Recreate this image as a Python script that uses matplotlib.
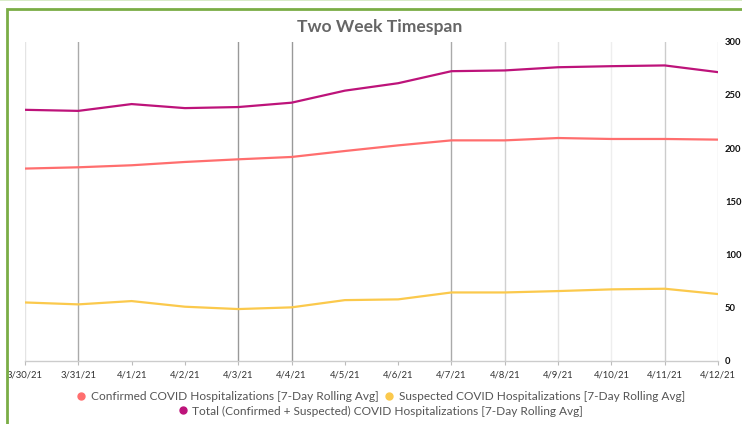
import matplotlib.pyplot as plt
from matplotlib.lines import Line2D
from matplotlib.patches import Rectangle

# data
dates = ["3/30/21", "3/31/21", "4/1/21", "4/2/21", "4/3/21", "4/4/21", "4/5/21",
         "4/6/21", "4/7/21", "4/8/21", "4/9/21", "4/10/21", "4/11/21", "4/12/21"]
confirmed = [180.8, 182.0, 183.9, 187.0, 189.5, 191.7, 197.3,
             202.6, 207.3, 207.3, 209.5, 208.6, 208.6, 208.0]
suspected = [55.0, 53.2, 56.3, 51.0, 48.8, 50.4, 57.2,
             57.9, 64.4, 64.4, 65.7, 67.3, 67.9, 62.9]
total = [236.0, 235.0, 241.4, 237.6, 238.6, 242.7, 254.0,
         261.0, 272.3, 273.0, 276.0, 277.0, 277.7, 271.4]
y_ticks = [0, 50, 100, 150, 200, 250, 300]

series_names = ["Confirmed COVID Hospitalizations [7-Day Rolling Avg]",
                "Suspected COVID Hospitalizations [7-Day Rolling Avg]",
                "Total (Confirmed + Suspected) COVID Hospitalizations [7-Day Rolling Avg]"]
colors = ["#ff6e6e", "#fbc94c", "#bd137a"]

# gridline shade per date (reference shows uneven vertical lines)
grid_shades = ["#e4e4e4", "#aaaaaa", None, None, "#999999", "#999999", None,
               None, "#aaaaaa", "#d0d0d0", "#e4e4e4", "#eeeeee", "#cccccc", "#dddddd"]

plt.rcParams['font.family'] = ['Lato', 'DejaVu Sans']

fig = plt.figure(figsize=(7.42, 4.24), dpi=100)

# green frame around the card
fig.add_artist(Rectangle((0, 0.997), 1, 0.003, transform=fig.transFigure,
                         color="#d9ecc9", lw=0))
fig.add_artist(Rectangle((7 / 742, -0.1), 1.2, 1.1 - 9 / 424, transform=fig.transFigure,
                         fill=False, edgecolor="#7aad45", lw=2))

ax = fig.add_axes([25 / 742, 1 - 361 / 424, (718 - 25) / 742, (361 - 41.7) / 424])
x = list(range(len(dates)))

for xi, shade in zip(x, grid_shades):
    if shade is not None:
        ax.axvline(xi, color=shade, lw=1, zorder=1)

ax.plot(x, confirmed, color=colors[0], lw=1.6, zorder=3, solid_capstyle='round')
ax.plot(x, suspected, color=colors[1], lw=1.6, zorder=3, solid_capstyle='round')
ax.plot(x, total, color=colors[2], lw=1.6, zorder=3, solid_capstyle='round')

ax.set_xlim(0, len(dates) - 1)
ax.set_ylim(0, 300)
ax.set_xticks(x)
ax.set_xticklabels(dates, fontsize=6.8, color="#333333")
ax.set_yticks(y_ticks)
ax.set_yticklabels([str(v) for v in y_ticks], fontsize=6.8, fontweight='bold', color="#111111")
ax.yaxis.tick_right()
ax.tick_params(axis='y', length=0, pad=5)
ax.tick_params(axis='x', length=3, color="#bbbbbb", pad=4)

for side in ["top", "left", "right"]:
    ax.spines[side].set_visible(False)
ax.spines["bottom"].set_color("#cccccc")
ax.spines["bottom"].set_linewidth(1)

fig.text(0.512, 1 - 27 / 424, "Two Week Timespan", ha='center', va='center',
         fontsize=12.6, fontweight='bold', color="#666666")

handles = [Line2D([], [], marker='o', ls='none', markersize=5,
                  markerfacecolor=c, markeredgecolor=c) for c in colors]
leg1 = fig.legend(handles[:2], series_names[:2], loc='center', ncol=2,
                  bbox_to_anchor=(0.512, 1 - 397 / 424), frameon=False,
                  fontsize=8.6, labelcolor="#555555", handletextpad=0.3,
                  columnspacing=0.4, handlelength=1.0)
leg2 = fig.legend(handles[2:], series_names[2:], loc='center',
                  bbox_to_anchor=(0.512, 1 - 411 / 424), frameon=False,
                  fontsize=8.6, labelcolor="#555555", handletextpad=0.3,
                  handlelength=1.0)

fig.savefig("out.png", dpi=100, facecolor="white")
